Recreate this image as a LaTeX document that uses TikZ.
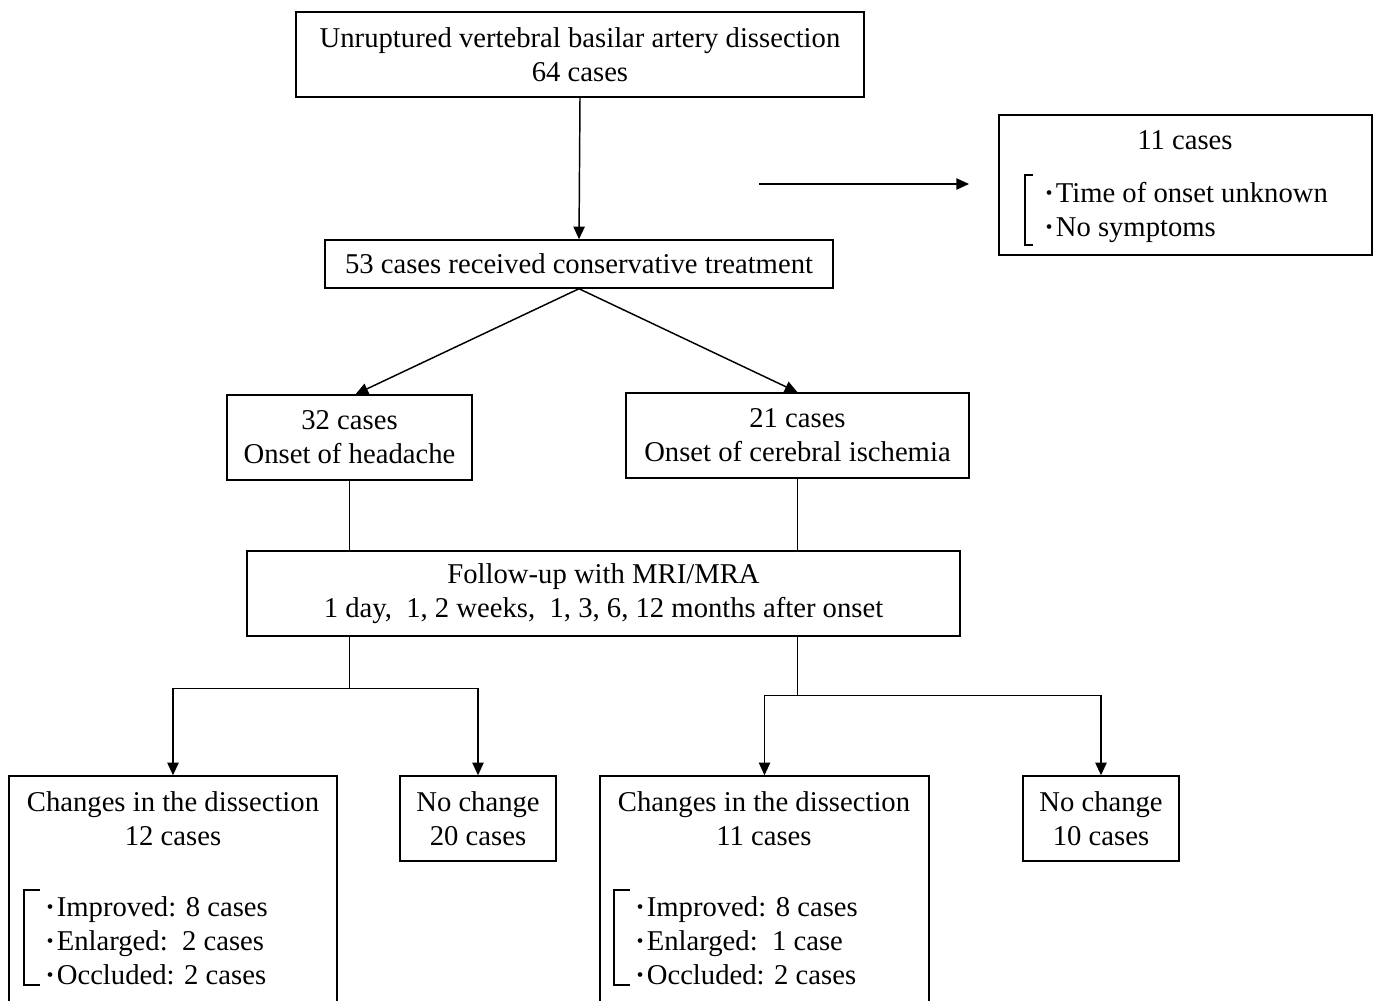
\documentclass[tikz,border=0pt]{standalone}
\usepackage{fontspec}
\setmainfont{Liberation Serif}
\usetikzlibrary{arrows.meta,calc}
\newcommand{\bul}{\textbf{·}\kern1.5pt}
\begin{document}
\begin{tikzpicture}[x=0.75pt,y=-0.75pt,
  every node/.style={font=\fontsize{21.5}{25.5}\selectfont},
  box/.style={draw,line width=1.1pt,inner sep=0pt,align=center,minimum height=63.75pt},
  lst/.style={inner sep=0pt,align=left,anchor=west},
  con/.style={line width=1.1pt},
  brk/.style={line width=0.9pt},
  arr/.style={line width=1.1pt,-{Triangle[length=9.5pt,width=8.5pt]}}]
\useasboundingbox (0,0) rectangle (1373,1000);
\begin{scope}
\clip (0,0) rectangle (1373,1000);
% boxes
\node[box,minimum width=426pt] (top) at (580,54.5) {Unruptured vertebral basilar artery dissection\\64 cases};
\node[box,minimum width=279.75pt,minimum height=105pt] (excl) at (1185.5,185) {};
\node[inner sep=0pt] (exclt) at (1185,140) {11 cases};
\node[lst] (excll) at (1044,212) {\bul Time of onset unknown\\\bul No symptoms};
\node[box,minimum width=381pt,minimum height=36pt] (cons) at (579,264) {53 cases received conservative treatment};
\node[box,minimum width=183.75pt] (head) at (349.5,437.5) {32 cases\\Onset of headache};
\node[box,minimum width=257.25pt] (isch) at (797.5,435.5) {21 cases\\Onset of cerebral ischemia};
\node[box,minimum width=534.75pt] (fu) at (603.5,593.5) {Follow-up with MRI/MRA\\1 day,\ \ 1, 2 weeks,\ \ 1, 3, 6, 12 months after onset};
\node[box,minimum width=246pt,minimum height=175.5pt] (ch1) at (173,893) {};
\node[inner sep=0pt,align=center] (ch1t) at (173,819) {Changes in the dissection\\12 cases};
\node[lst] (ch1l) at (45,941) {\bul Improved: 8 cases\\\bul Enlarged:\ \ 2 cases\\\bul Occluded: 2 cases};
\node[box,minimum width=117pt] (nc1) at (478,818.5) {No change\\20 cases};
\node[box,minimum width=246.75pt,minimum height=175.5pt] (ch2) at (764.5,893) {};
\node[inner sep=0pt,align=center] (ch2t) at (764,819) {Changes in the dissection\\11 cases};
\node[lst] (ch2l) at (635,941) {\bul Improved: 8 cases\\\bul Enlarged:\ \ 1 case\\\bul Occluded: 2 cases};
\node[box,minimum width=117pt] (nc2) at (1101,818.5) {No change\\10 cases};
% brackets
\draw[brk] (1033,175) -- (1025,175) -- (1025,245) -- (1033,245);
\draw[brk] (40,890) -- (24,890) -- (24,985) -- (40,985);
\draw[brk] (630,890) -- (614,890) -- (614,985) -- (630,985);
% connectors
\coordinate (hs) at (759,184);
\coordinate (he) at (969,184);
\draw[arr] (hs) -- (he);
\draw[arr] (top.south) -- (cons.north);
\draw[arr] (cons.south) -- ([xshift=4.5pt]head.north);
\draw[arr] (cons.south) -- (isch.north);
\draw[con] (head.south) -- (head.south |- fu.north);
\draw[con] (isch.south) -- (isch.south |- fu.north);
\coordinate (j1) at ($(fu.south -| head.south)+(0,52)$);
\draw[con] (fu.south -| head.south) -- (j1);
\draw[arr] (j1) -| (ch1.north);
\draw[arr] (j1) -| (nc1.north);
\coordinate (j2) at ($(fu.south -| isch.south)+(0,59)$);
\draw[con] (fu.south -| isch.south) -- (j2);
\draw[arr] (j2) -| (ch2.north);
\draw[arr] (j2) -| (nc2.north);
\end{scope}
\end{tikzpicture}
\end{document}
